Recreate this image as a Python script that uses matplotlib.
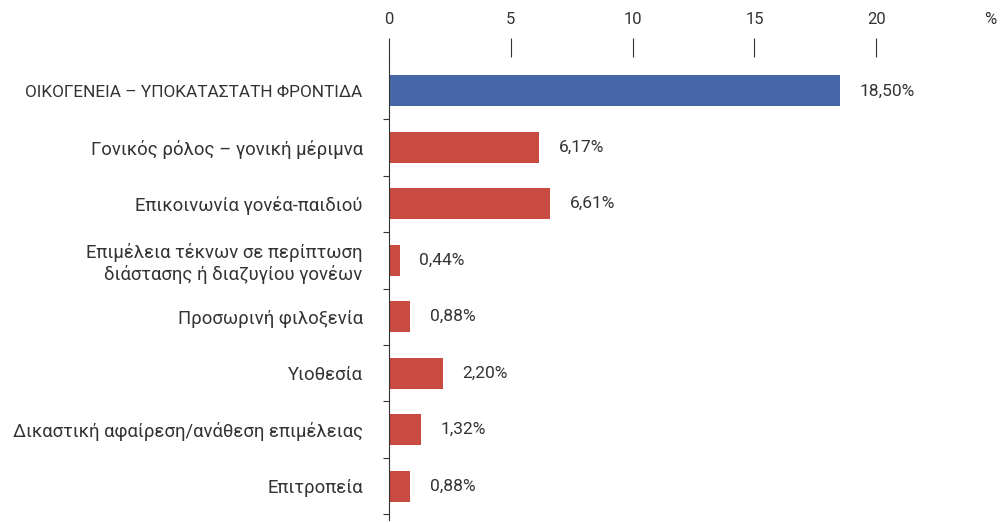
import matplotlib.pyplot as plt
import numpy as np

# data
categories = [
    "ΟΙΚΟΓΕΝΕΙΑ – ΥΠΟΚΑΤΑΣΤΑΤΗ ΦΡΟΝΤΙΔΑ",
    "Γονικός ρόλος – γονική μέριμνα",
    "Επικοινωνία γονέα-παιδιού",
    "Επιμέλεια τέκνων σε περίπτωση\nδιάστασης ή διαζυγίου γονέων",
    "Προσωρινή φιλοξενία",
    "Υιοθεσία",
    "Δικαστική αφαίρεση/ανάθεση επιμέλειας",
    "Επιτροπεία",
]
values = [18.50, 6.17, 6.61, 0.44, 0.88, 2.20, 1.32, 0.88]
colors = ["#4767a8"] + ["#c94a40"] * 7
xticks = [0, 5, 10, 15, 20]

plt.rcParams['font.family'] = ['Roboto', 'DejaVu Sans']
text_color = '#333333'

fig = plt.figure(figsize=(10.04, 5.23), dpi=100)
ax = fig.add_axes([0.3875, 0.0057, 0.6065, 0.8853])

y = np.arange(len(categories))
ax.barh(y, values, height=0.55, color=colors)

for yi, v in zip(y, values):
    ax.annotate(f"{v:.2f}%".replace('.', ','), xy=(v, yi), xytext=(14, 0),
                textcoords='offset points', va='center', ha='left',
                fontsize=12.5, color=text_color)

ax.set_xlim(0, 25)
ax.set_ylim(len(categories) - 0.4, -0.6)

ax.xaxis.tick_top()
ax.set_xticks(xticks)
ax.set_xticklabels([str(t) for t in xticks])
ax.tick_params(axis='x', direction='out', length=13.5, width=0.8, pad=8,
               labelsize=12, labelcolor=text_color, color='#333333')
ax.annotate("%", xy=(24.95, 1.0), xycoords=ax.get_xaxis_transform(),
            xytext=(0, 21.5), textcoords='offset points',
            ha='right', va='bottom', fontsize=12, color=text_color)

ax.set_yticks(y)
ax.set_yticklabels(categories, fontsize=13.3, color=text_color)
ax.set_yticks(np.arange(len(categories)) + 0.5, minor=True)
ax.tick_params(axis='y', which='major', length=0, pad=19)
ax.tick_params(axis='y', which='minor', length=4.5, width=0.8, color='#333333')
for lbl in ax.get_yticklabels():
    lbl.set_multialignment('right')
# the all-caps heading row is set a little smaller so it fits
ax.get_yticklabels()[0].set_fontsize(12.4)

for s in ['top', 'right', 'bottom']:
    ax.spines[s].set_visible(False)
ax.spines['left'].set_color('#333333')
ax.spines['left'].set_linewidth(0.8)

fig.savefig('out.png', dpi=100)
